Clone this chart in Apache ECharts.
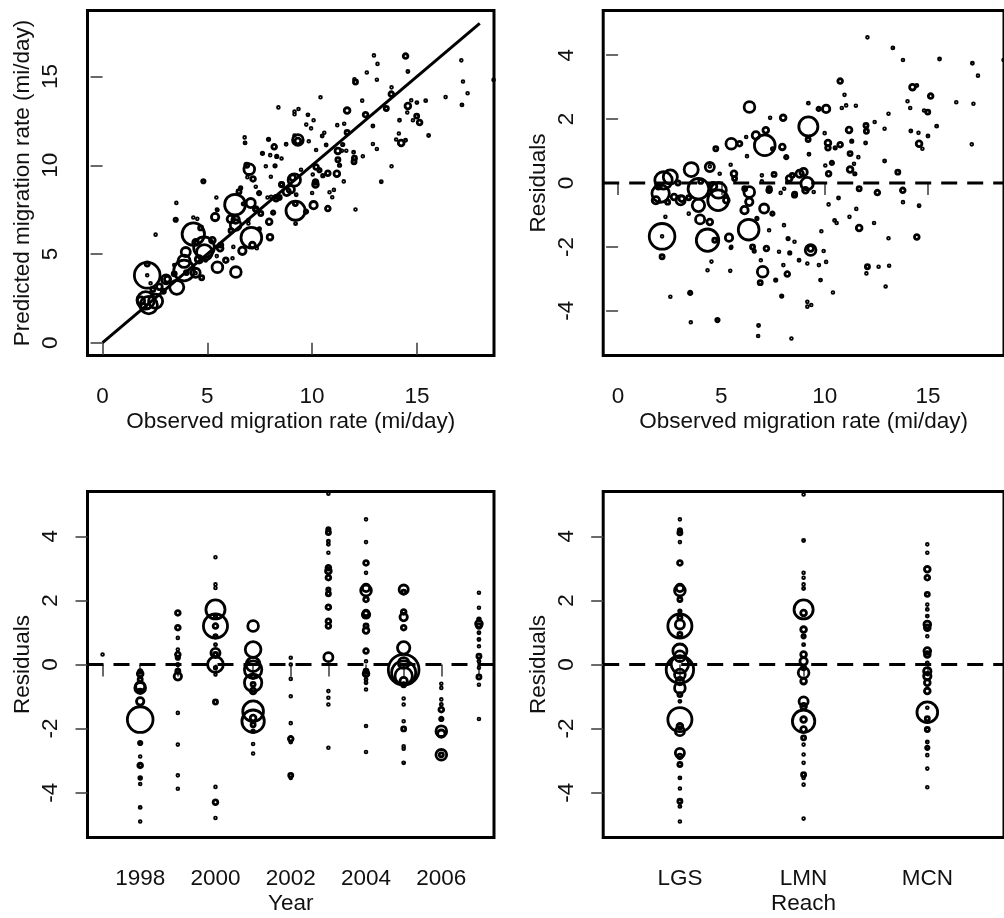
<!DOCTYPE html>
<html>
<head>
<meta charset="utf-8">
<script src="https://cdn.jsdelivr.net/npm/echarts@6/dist/echarts.min.js"></script>
<style>
html,body{margin:0;padding:0;background:#fff;}
#chart{width:1004px;height:918px;}
</style>
</head>
<body>
<div id="chart"></div>
<script>
// ---------- Panel A/B data: observed rate, residual (observed - predicted), relative bubble size ----------
const obsRate = [12.07,13.30,13.79,15.56,17.15,17.42,10.75,10.96,9.21,9.71,10.07,10.83,11.04,11.51,14.25,14.46,15.13,14.01,14.14,14.81,14.99,16.37,17.20,13.09,12.42,12.90,12.00,12.02,11.98,11.18,11.31,11.23,11.63,10.75,10.51,10.16,10.16,10.00,9.21,9.20,9.24,10.35,10.03,10.19,8.98,11.23,11.46,11.42,12.90,13.54,14.17,14.54,15.00,14.57,14.73,15.42,17.12,11.67,12.55,13.78,10.67,10.19,11.53,13.79,14.57,11.20,10.48,10.58,11.67,12.39,9.84,13.09,14.46,9.32,9.32,9.95,8.76,9.16,9.72,10.07,9.80,10.40,9.16,9.35,9.16,12.07,12.02,12.61,13.12,12.95,2.06,3.09,3.89,3.89,4.84,5.24,4.44,3.97,2.29,2.13,2.13,2.13,4.33,4.68,5.37,5.48,6.32,6.72,6.35,6.35,6.12,7.07,7.47,7.31,8.03,8.23,8.54,8.31,8.00,8.19,7.63,7.92,7.00,6.88,6.91,6.51,6.59,7.18,7.79,8.54,7.31,7.87,5.43,4.52,4.33,3.49,2.53,4.81,3.52,6.80,6.78,8.39,6.36,7.99,7.36,5.48,5.88,4.73,6.67,7.15,7.10,7.95,8.14,6.20,6.24,3.54,4.44,4.44,5.45,5.61,5.64,4.92,2.20,2.53,7.55,6.96,8.43,1.83,2.71,3.03,4.86,6.13,7.32,8.28,8.79,9.15,9.07,8.55,9.47,7.48,6.96,8.04,8.20,3.42,3.42,5.46,2.90,4.00,4.60,1.95,2.40,18.66];
const residual = [4.56,4.23,3.85,3.88,3.75,3.36,3.19,2.76,2.50,2.32,2.32,2.35,2.43,2.42,3.00,3.05,2.72,2.56,2.35,2.27,2.22,2.53,2.48,2.17,1.91,1.70,1.80,1.62,1.25,1.66,1.31,0.92,0.81,1.20,1.10,1.25,1.10,1.56,1.77,1.36,0.90,0.63,0.55,0.29,0.34,0.42,0.29,0.60,0.69,0.34,1.63,1.57,1.47,1.23,1.07,1.78,1.21,-0.18,-0.30,-0.23,-0.47,-0.67,-0.81,-0.60,-0.71,-1.06,-1.17,-1.25,-1.41,-1.25,-1.51,-1.73,-1.69,-2.10,-2.05,-2.13,-2.42,-2.52,-2.57,-2.47,-3.04,-3.43,-3.72,-3.82,-3.87,-2.62,-2.83,-2.62,-2.59,-3.24,-0.33,-0.49,-0.18,-0.70,-0.54,-0.54,-1.22,-1.14,-1.06,-1.67,-1.67,-2.31,-1.79,-1.79,-1.71,-2.00,-1.46,-1.11,-0.28,-0.59,-0.85,-0.80,-0.96,-1.48,-1.32,-1.74,-1.84,-2.19,-2.57,-2.85,-3.04,-3.54,-2.78,-3.12,-2.42,-2.00,-2.13,-2.05,-2.15,-0.38,-0.23,-0.31,-2.75,-2.46,-2.73,-3.44,-3.56,-4.29,-4.36,-4.46,-4.79,-4.87,2.38,2.04,2.04,1.23,1.23,1.07,1.49,1.65,1.18,1.13,0.81,1.44,0.84,0.42,0.50,0.52,0.57,0.29,0.14,0.29,0.08,0.19,0.27,0.24,0.24,-0.54,-0.44,-0.54,-0.23,-0.18,-0.18,0.14,0.29,-0.02,-0.23,-0.35,-0.28,1.07,0.05,-0.18,0.03,-0.96,-0.46,-2.03,0.00,0.05,-0.10,-0.10,-0.60,3.85];
const relSize = [0.27,0.47,0.33,0.47,0.47,0.33,0.73,0.27,0.47,0.6,1.0,0.33,0.27,0.4,0.83,0.47,0.73,0.27,0.33,0.33,0.67,0.27,0.27,0.4,0.4,0.27,0.67,0.67,0.47,0.83,0.5,0.67,0.4,0.73,0.5,0.83,0.73,0.33,2.17,0.67,0.47,0.6,0.33,0.73,1.0,0.83,0.5,0.33,0.47,0.67,0.47,0.33,0.47,0.83,0.4,0.47,0.33,0.67,0.73,0.73,0.47,0.27,0.33,0.33,0.47,0.27,0.47,0.4,0.83,0.4,0.33,0.27,0.73,1.33,0.83,0.33,0.47,0.4,0.33,0.33,0.47,0.27,0.27,0.27,0.27,0.67,0.27,0.27,0.27,0.4,2.0,0.83,2.33,1.5,2.33,0.83,0.83,1.17,0.33,2.83,0.27,0.67,2.5,0.67,1.0,0.4,2.33,0.5,1.33,1.0,1.0,1.17,0.6,0.4,0.33,0.5,0.4,0.5,0.4,0.73,0.5,0.5,1.33,0.67,0.4,0.67,0.5,0.73,0.33,0.67,0.73,0.33,0.4,0.33,0.33,0.6,0.33,0.6,0.33,0.47,0.33,0.33,1.33,0.83,0.27,1.33,0.73,0.67,1.0,0.83,2.33,0.83,0.6,0.33,0.33,1.67,1.17,0.27,0.33,0.83,0.67,0.33,2.0,1.67,0.67,0.33,0.67,1.0,0.83,1.17,1.83,0.67,0.67,0.83,1.0,1.5,0.83,0.67,0.33,0.5,0.33,0.33,0.33,0.33,0.67,0.47,0.67,0.67,1.0,0.83,0.67,0.33];

// ---------- Panel C data: residuals by year ----------
const yearTicks = [1997,1998,1999,2000,2001,2002,2003,2004,2005,2006,2007];
const yearLabels = [1998,2000,2002,2004,2006];
const yearOf = [1997,
 1998,1998,1998,1998,1998,1998,1998,1998,1998,1998,1998,1998,1998,1998,1998,1998,
 1999,1999,1999,1999,1999,1999,1999,1999,1999,1999,1999,1999,1999,
 2000,2000,2000,2000,2000,2000,2000,2000,2000,2000,2000,2000,2000,2000,2000,2000,2000,2000,
 2001,2001,2001,2001,2001,2001,2001,2001,2001,2001,2001,2001,2001,2001,2001,
 2002,2002,2002,2002,2002,2002,2002,2002,2002,
 2003,2003,2003,2003,2003,2003,2003,2003,2003,2003,2003,2003,2003,2003,2003,2003,2003,2003,2003,
 2004,2004,2004,2004,2004,2004,2004,2004,2004,2004,2004,2004,2004,2004,2004,2004,2004,2004,2004,2004,
 2005,2005,2005,2005,2005,2005,2005,2005,2005,2005,2005,2005,2005,2005,2005,2005,2005,2005,2005,
 2006,2006,2006,2006,2006,2006,2006,2006,2006,2006,
 2007,2007,2007,2007,2007,2007,2007,2007,2007,2007,2007,2007,2007,2007];
const yearResid = [0.31,
 -0.21,-0.29,-0.47,-0.68,-0.73,-0.83,-1.15,-1.72,-2.45,-2.87,-3.15,-3.15,-3.54,-3.73,-4.46,-4.90,
 1.61,1.15,0.83,0.47,0.31,0.21,0.00,-0.21,-0.37,-1.51,-2.50,-3.46,-3.88,
 3.35,2.50,2.39,1.72,1.51,1.20,1.20,0.88,0.62,0.36,0.31,0.00,-0.10,-0.31,-1.17,-3.82,-4.30,-4.79,
 1.20,0.47,0.00,-0.16,-0.37,-0.57,-0.62,-0.83,-1.46,-1.67,-1.77,-1.88,-2.08,-2.48,-2.78,
 0.21,0.00,-0.45,-0.99,-1.83,-2.32,-2.42,-3.46,-3.54,
 5.33,4.22,4.12,3.85,3.75,3.49,3.02,2.92,2.71,2.34,2.21,1.79,1.35,1.20,0.23,-0.83,-1.04,-1.25,-2.60,
 4.53,3.82,3.17,2.86,2.39,2.31,2.03,1.61,1.56,1.20,1.06,0.42,0.10,-0.21,-0.29,-0.47,-0.57,-0.78,-1.92,-2.73,
 2.34,2.26,1.64,1.48,1.15,0.52,0.05,-0.16,-0.26,-0.36,-0.52,-0.63,-1.06,-1.25,-1.77,-2.01,-2.55,-2.63,-3.07,
 -0.60,-0.73,-1.09,-1.25,-1.41,-1.70,-2.08,-2.16,-2.82,-2.82,
 2.24,1.77,1.41,1.27,1.20,0.99,0.78,0.57,0.26,0.10,-0.10,-0.39,-0.63,-1.70];
const yearSize = [0.33,
 0.6,0.83,0.67,1.17,1.33,0.67,1.0,2.83,0.6,0.33,0.73,0.4,0.53,0.33,0.47,0.33,
 0.73,0.73,0.27,0.4,0.73,0.6,0.5,0.67,1.0,0.27,0.4,0.27,0.27,
 0.33,0.33,0.4,2.17,0.5,2.67,0.73,0.6,0.47,1.17,0.67,1.83,0.5,0.4,0.67,0.33,0.73,0.33,
 1.33,1.83,1.67,2.0,0.67,2.0,0.67,0.83,2.33,0.83,2.5,0.67,0.5,0.33,0.4,
 0.27,0.4,0.33,0.33,0.4,0.73,0.47,0.67,0.4,
 0.33,0.6,0.67,0.47,0.47,0.33,0.73,0.83,0.73,0.6,0.67,0.73,0.73,0.73,1.17,0.33,0.33,0.33,0.33,
 0.27,0.33,0.73,0.27,1.0,1.33,0.73,0.83,1.0,0.67,0.83,0.73,0.27,0.67,0.83,0.47,0.47,0.4,0.27,0.33,
 1.17,0.67,0.73,1.0,0.73,1.5,1.33,3.33,2.67,2.0,1.0,0.67,0.33,0.33,0.4,0.67,0.4,0.33,0.47,
 0.33,0.33,0.4,0.47,0.73,0.6,1.33,1.0,1.33,0.67,
 0.4,0.4,0.53,0.93,0.73,0.47,0.47,0.4,0.67,0.47,0.4,0.67,0.4,0.33];

// ---------- Panel D data: residuals by reach ----------
const reachNames = ['LGS','LMN','MCN'];
const reachOf = [
 1,1,1,1,1,1,1,1,1,1,1,1,1,1,1,1,1,1,1,1,1,1,1,1,1,1,1,1,1,1,1,1,1,
 2,2,2,2,2,2,2,2,2,2,2,2,2,2,2,2,2,2,2,2,2,2,2,2,2,2,2,2,2,
 3,3,3,3,3,3,3,3,3,3,3,3,3,3,3,3,3,3,3,3,3,3,3,3,3,3,3];
const reachResid = [
 4.53,4.19,4.11,3.82,3.17,2.39,2.31,2.03,1.67,1.46,1.20,1.25,0.94,0.42,0.26,0.00,-0.16,-0.31,-0.52,-0.73,-0.94,-1.15,-1.72,-1.93,-2.08,-2.76,-2.87,-3.12,-3.54,-3.87,-4.27,-4.43,-4.90,
 5.31,3.87,2.86,2.71,2.50,2.37,1.72,1.61,1.09,0.88,0.62,0.31,0.10,-0.10,-0.26,-0.52,-1.15,-1.30,-1.77,-1.72,-2.03,-2.29,-2.50,-2.81,-3.07,-3.44,-3.54,-3.75,-4.81,
 3.75,3.49,2.97,2.71,2.19,1.87,1.72,1.51,1.25,1.15,0.88,0.42,0.31,0.05,-0.21,-0.36,-0.57,-0.83,-1.35,-1.49,-1.69,-2.03,-2.42,-2.60,-2.83,-3.25,-3.83];
const reachSize = [
 0.27,0.6,0.67,0.33,0.73,1.0,1.33,0.67,0.5,0.67,2.67,1.17,0.67,1.67,1.33,2.0,3.0,1.33,1.0,1.33,0.67,0.47,2.67,0.83,1.17,1.17,0.73,0.67,0.47,0.27,0.67,0.47,0.27,
 0.33,0.47,0.27,0.27,0.33,0.47,2.17,0.83,0.83,0.6,0.47,0.83,1.0,0.67,1.33,0.83,1.17,0.83,2.5,0.83,0.83,0.67,0.4,0.33,0.4,0.67,0.4,0.33,0.33,
 0.33,0.33,0.83,0.73,0.67,0.33,0.47,0.47,0.93,0.83,0.4,0.93,0.83,0.47,1.0,1.0,0.83,0.83,0.33,2.33,0.67,0.67,0.47,0.6,0.33,0.33,0.33];

// ---------- build ----------
const FONT = '"Liberation Sans", Arial, Helvetica, sans-serif';
const FS = 22.5;
const predicted = obsRate.map((o, i) => +(o - residual[i]).toFixed(2));
const ptsA = obsRate.map((o, i) => [o, predicted[i], relSize[i]]);
const ptsB = obsRate.map((o, i) => [o, residual[i], relSize[i]]);
const ptsC = yearOf.map((y, i) => [y, yearResid[i], yearSize[i]]);
const ptsD = reachOf.map((r, i) => [r, reachResid[i], reachSize[i]]);

const grids = [
  {left: 87.5, top: 10.5, width: 406.5, height: 345},
  {left: 603.2, top: 10.5, width: 406.5, height: 345},
  {left: 87.5, top: 491.5, width: 406.5, height: 346},
  {left: 603.2, top: 491.5, width: 406.5, height: 346}
].map(g => Object.assign(g, {show: true, borderColor: '#000', borderWidth: 3, backgroundColor: 'transparent'}));

function axis(kind, gi, min, max, tickVals, labelVals, name, fmt) {
  const isX = kind === 'x';
  return {
    type: 'value', gridIndex: gi, min: min, max: max,
    axisLine: {show: false},
    splitLine: {show: false},
    axisTick: {show: true, inside: false, length: 12, customValues: tickVals,
      lineStyle: {color: '#444', width: 1.6}},
    axisLabel: {show: true, customValues: labelVals, fontSize: FS, color: '#111', fontFamily: FONT,
      margin: isX ? 30 : 25, rotate: isX ? 0 : 90, formatter: fmt || (v => String(v)),
      showMinLabel: true, showMaxLabel: true, hideOverlap: false},
    name: name, nameLocation: 'middle', nameGap: isX ? 55 : 53,
    nameTextStyle: {fontSize: FS, color: '#111', fontFamily: FONT}
  };
}

const xAxes = [
  axis('x', 0, -0.72, 18.68, [0,5,10,15], [0,5,10,15], 'Observed migration rate (mi/day)'),
  axis('x', 1, -0.72, 18.68, [0,5,10,15], [0,5,10,15], 'Observed migration rate (mi/day)'),
  axis('x', 2, 1996.6, 2007.4, yearTicks, yearLabels, 'Year'),
  axis('x', 3, 0.38, 3.62, [1,2,3], [1,2,3], 'Reach', v => reachNames[Math.round(v) - 1])
];
const residTicks = [-4,-2,0,2,4];
const yAxes = [
  axis('y', 0, -0.72, 18.72, [0,5,10,15], [0,5,10,15], 'Predicted migration rate (mi/day)'),
  axis('y', 1, -5.4, 5.4, residTicks, residTicks, 'Residuals'),
  axis('y', 2, -5.4, 5.4, residTicks, residTicks, 'Residuals'),
  axis('y', 3, -5.4, 5.4, residTicks, residTicks, 'Residuals')
];

const bubbleStyle = {color: 'rgba(0,0,0,0)', borderColor: '#000', borderWidth: 2.8, opacity: 1};
function bubbles(i, data) {
  return {type: 'scatter', xAxisIndex: i, yAxisIndex: i, data: data,
    symbol: 'circle', symbolSize: v => Math.max(v[2] * 10 - 2.6, 1.8),
    itemStyle: bubbleStyle, emphasis: {disabled: true}, silent: true, clip: true, z: 3};
}
function zeroLine(i) {
  const ax = xAxes[i];
  return {type: 'line', xAxisIndex: i, yAxisIndex: i, data: [[ax.min, 0], [ax.max, 0]],
    showSymbol: false, symbol: 'none', silent: true, z: 2,
    lineStyle: {color: '#000', width: 3, type: [16, 10]}};
}

const series = [
  {type: 'line', xAxisIndex: 0, yAxisIndex: 0, data: [[0, 0], [18, 18]], symbol: 'none', silent: true, z: 2,
   lineStyle: {color: '#000', width: 3}},
  bubbles(0, ptsA),
  zeroLine(1), bubbles(1, ptsB),
  zeroLine(2), bubbles(2, ptsC),
  zeroLine(3), bubbles(3, ptsD)
];

const chart = echarts.init(document.getElementById('chart'), null, {renderer: 'canvas'});
chart.setOption({
  animation: false,
  backgroundColor: '#fff',
  grid: grids,
  xAxis: xAxes,
  yAxis: yAxes,
  series: series
});
</script>
</body>
</html>
